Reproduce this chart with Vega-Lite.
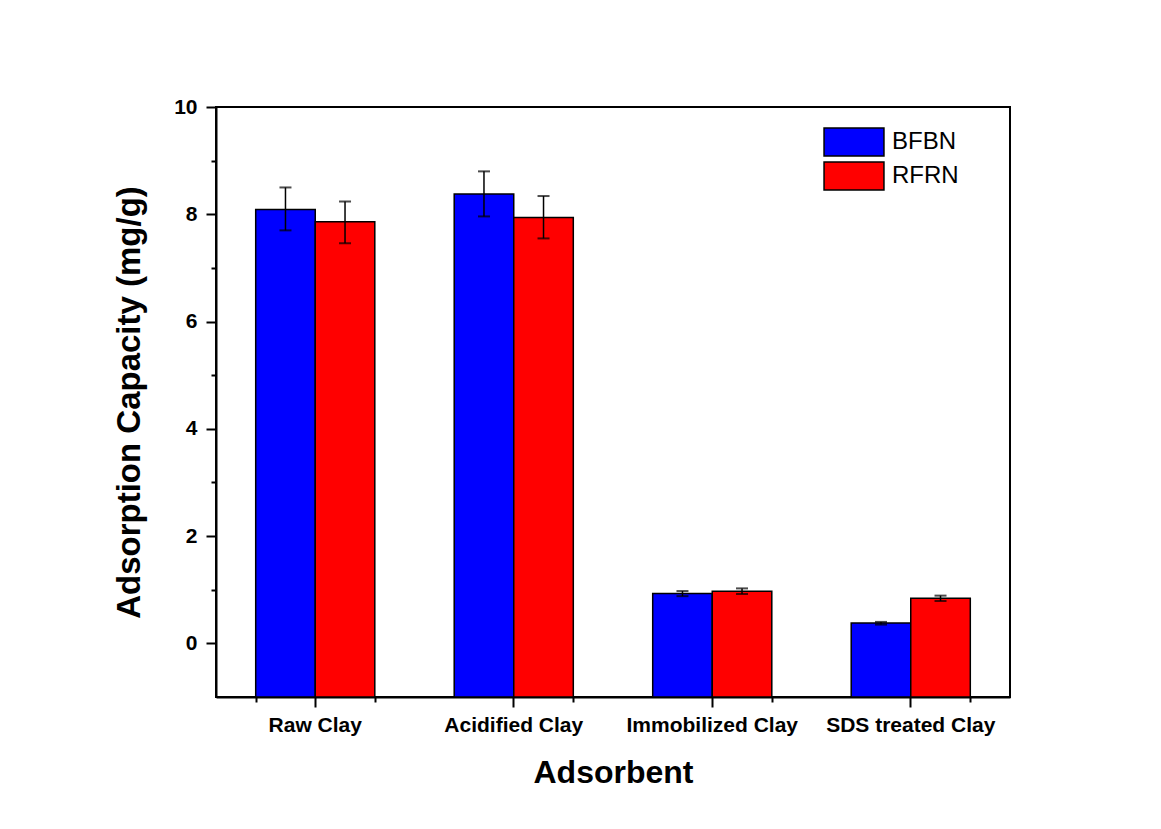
{
  "$schema": "https://vega.github.io/schema/vega-lite/v6.json",
  "width": 794,
  "height": 590,
  "autosize": {"type": "none"},
  "padding": {"left": 216, "top": 107, "right": 151, "bottom": 132},
  "background": "white",
  "config": {
    "font": "Liberation Sans",
    "view": {"stroke": "black", "strokeWidth": 2},
    "axis": {
      "grid": false,
      "domainColor": "black",
      "domainWidth": 2,
      "tickColor": "black",
      "tickWidth": 2,
      "labelColor": "black",
      "labelFont": "Liberation Sans",
      "labelFontWeight": "bold",
      "labelFontSize": 21,
      "titleColor": "black",
      "titleFont": "Liberation Sans",
      "titleFontWeight": "bold",
      "titleFontSize": 32
    },
    "legend": {
      "orient": "none",
      "legendX": 623,
      "legendY": 20,
      "padding": 0,
      "title": null,
      "symbolType": "M-2.14,-1H2.14V1H-2.14Z",
      "symbolSize": 784,
      "symbolStrokeColor": "black",
      "symbolStrokeWidth": 1.5,
      "symbolOpacity": 1,
      "labelFont": "Liberation Sans",
      "labelFontSize": 24,
      "labelColor": "black",
      "labelOffset": 23,
      "rowPadding": 0
    }
  },
  "data": {
    "values": [
      {"adsorbent": "Raw Clay", "series": "BFBN", "value": 8.09, "low": 7.70, "high": 8.50},
      {"adsorbent": "Raw Clay", "series": "RFRN", "value": 7.86, "low": 7.46, "high": 8.24},
      {"adsorbent": "Acidified Clay", "series": "BFBN", "value": 8.38, "low": 7.96, "high": 8.80},
      {"adsorbent": "Acidified Clay", "series": "RFRN", "value": 7.94, "low": 7.55, "high": 8.34},
      {"adsorbent": "Immobilized Clay", "series": "BFBN", "value": 0.93, "low": 0.88, "high": 0.975},
      {"adsorbent": "Immobilized Clay", "series": "RFRN", "value": 0.97, "low": 0.92, "high": 1.025},
      {"adsorbent": "SDS treated Clay", "series": "BFBN", "value": 0.38, "low": 0.35, "high": 0.40},
      {"adsorbent": "SDS treated Clay", "series": "RFRN", "value": 0.84, "low": 0.79, "high": 0.89}
    ]
  },
  "layer": [
    {
      "mark": {"type": "bar", "stroke": "black", "strokeWidth": 1.5, "opacity": 1},
      "encoding": {
        "x": {
          "field": "adsorbent",
          "type": "nominal",
          "sort": ["Raw Clay", "Acidified Clay", "Immobilized Clay", "SDS treated Clay"],
          "scale": {"type": "band", "paddingInner": 0.4, "paddingOuter": 0.2},
          "axis": {
            "orient": "bottom",
            "title": "Adsorbent",
            "labelAngle": 0,
            "tickSize": 10,
            "labelPadding": 7,
            "titlePadding": 22
          }
        },
        "xOffset": {
          "field": "series",
          "type": "nominal",
          "scale": {"domain": ["BFBN", "RFRN"], "paddingInner": 0, "paddingOuter": 0}
        },
        "y": {
          "field": "value",
          "type": "quantitative",
          "scale": {"domain": [-1, 10], "nice": false, "zero": false},
          "axis": {
            "title": "Adsorption Capacity (mg/g)",
            "titleFontSize": 33,
            "values": [0, 1, 2, 3, 4, 5, 6, 7, 8, 9, 10],
            "labelExpr": "datum.value % 2 == 1 ? '' : datum.label",
            "tickSize": {"condition": {"test": "datum.value % 2 == 1", "value": 5}, "value": 10},
            "labelPadding": 9,
            "titlePadding": 27
          }
        },
        "y2": {"datum": -1},
        "color": {
          "field": "series",
          "type": "nominal",
          "scale": {"domain": ["BFBN", "RFRN"], "range": ["#0000FF", "#FF0000"]}
        }
      }
    },
    {
      "mark": {"type": "rule", "color": "black", "strokeWidth": 1.5},
      "encoding": {
        "x": {
          "field": "adsorbent",
          "type": "nominal",
          "sort": ["Raw Clay", "Acidified Clay", "Immobilized Clay", "SDS treated Clay"],
          "axis": {
            "orient": "bottom",
            "title": null,
            "labels": false,
            "domain": false,
            "tickBand": "extent",
            "tickSize": 5
          }
        },
        "xOffset": {"field": "series", "type": "nominal"},
        "y": {"field": "low", "type": "quantitative"},
        "y2": {"field": "high"}
      }
    },
    {
      "mark": {"type": "tick", "color": "black", "size": 12, "thickness": 2},
      "encoding": {
        "x": {"field": "adsorbent", "type": "nominal", "sort": ["Raw Clay", "Acidified Clay", "Immobilized Clay", "SDS treated Clay"], "axis": null},
        "xOffset": {"field": "series", "type": "nominal"},
        "y": {"field": "high", "type": "quantitative"}
      }
    },
    {
      "mark": {"type": "tick", "color": "black", "size": 12, "thickness": 2},
      "encoding": {
        "x": {"field": "adsorbent", "type": "nominal", "sort": ["Raw Clay", "Acidified Clay", "Immobilized Clay", "SDS treated Clay"], "axis": null},
        "xOffset": {"field": "series", "type": "nominal"},
        "y": {"field": "low", "type": "quantitative"}
      }
    }
  ],
  "resolve": {"axis": {"x": "independent"}}
}
